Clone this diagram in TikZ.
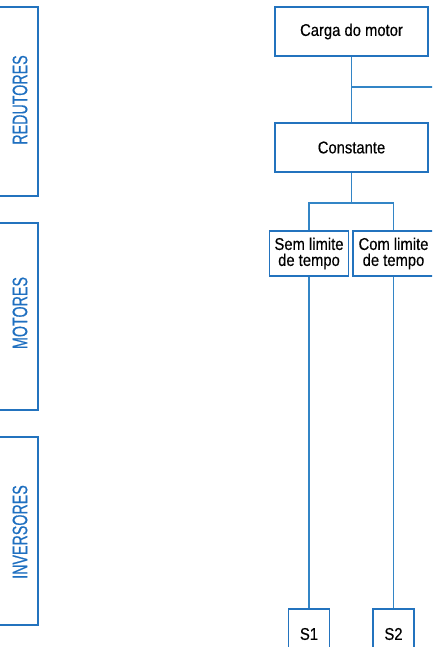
\documentclass[tikz,border=0pt]{standalone}
\usepackage{fontspec}
\setmainfont{Liberation Sans}
\newfontfamily\boxfont[FakeStretch=0.87,FakeBold=0.4]{Liberation Sans}
\newfontfamily\tabfont[FakeStretch=0.68,FakeBold=0.5]{Liberation Sans}
\definecolor{boxblue}{HTML}{2373BE}
\definecolor{lineblue}{HTML}{3385C6}
\definecolor{tabblue}{HTML}{1E6FC0}
\begin{document}
\begin{tikzpicture}[x=1pt,y=-1pt]
\tikzset{
  box/.style={draw=boxblue, line width=1.4pt, fill=white, inner sep=0pt,
    align=center, font=\boxfont\fontsize{17}{16}\selectfont},
  tab/.style={draw=boxblue, line width=1.4pt, inner sep=0pt},
  tablabel/.style={text=tabblue, rotate=90, inner sep=0pt,
    font=\tabfont\fontsize{21}{22}\selectfont},
  link/.style={draw=lineblue, line width=1.5pt}
}
\useasboundingbox (0,0) rectangle (432,647);
\clip (0,0) rectangle (432,647);

% side tabs
\node[tab, minimum width=48pt, minimum height=189pt] (tabred) at (14,101.5) {};
\node[tablabel] (lblred) at (20,100) {REDUTORES};
\node[tab, minimum width=48pt, minimum height=187pt] (tabmot) at (14,316.5) {};
\node[tablabel] (lblmot) at (20,313) {MOTORES};
\node[tab, minimum width=48pt, minimum height=188pt] (tabinv) at (14,531) {};
\node[tablabel] (lblinv) at (20,532) {INVERSORES};

% tree of load types
\node[box, minimum width=153pt, minimum height=49pt] (carga) at (351.5,31.5) {Carga do motor};
\node[box, minimum width=153pt, minimum height=49pt] (const) at (351.5,147.5) {Constante};
\node[box, minimum width=79pt, minimum height=45pt] (sem) at (309,253.5) {Sem limite\\de tempo};
\node[box, minimum width=81pt, minimum height=45pt] (com) at (393.5,253.5) {Com limite\\de tempo};
\node[box, minimum width=41pt, minimum height=50pt] (s1) at (309,634) {S1};
\node[box, minimum width=41pt, minimum height=50pt] (s2) at (393.5,634) {S2};

\coordinate (tap) at (351.5,87);
\coordinate (tapend) at (440,87);
\coordinate (split) at (351.5,203);

\draw[link] (carga.south) -- (const.north);
\draw[link] (tap) -- (tapend);
\draw[link] (const.south) -- (split);
\draw[link] (sem.north) |- (split) -| (com.north);
\draw[link] (sem.south) -- (s1.north);
\draw[link] (com.south) -- (s2.north);
\end{tikzpicture}
\end{document}
